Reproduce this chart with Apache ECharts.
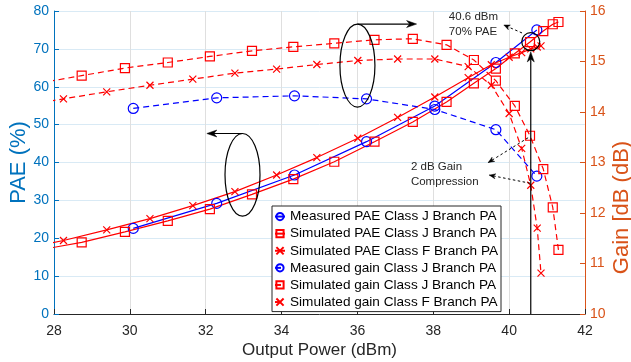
<!DOCTYPE html>
<html><head><meta charset="utf-8">
<script src="https://cdn.jsdelivr.net/npm/echarts@6/dist/echarts.min.js"></script>
<style>html,body{margin:0;padding:0;background:#fff}#c{width:631px;height:362px}</style>
</head><body><div id="c"></div>
<script>
// ---- data ----
const measX = [30.09, 32.29, 34.34, 36.24, 38.04, 39.65, 40.73];
const measPAE = [22.6, 29.2, 36.7, 45.5, 54.9, 66.4, 75.0];
const measGain = [14.07, 14.28, 14.32, 14.26, 14.05, 13.65, 12.73];

const simJX = [27.6, 28.73, 29.87, 31.0, 32.11, 33.22, 34.31, 35.39, 36.45, 37.46, 38.35, 39.07, 39.65, 40.15, 40.55, 40.9, 41.15, 41.3];
const simJPAE = [16.9, 18.9, 21.7, 24.6, 27.7, 31.6, 35.6, 40.2, 45.5, 50.7, 56.0, 60.9, 64.8, 68.8, 71.8, 74.7, 76.5, 77.1];
const simJGain = [14.57, 14.72, 14.87, 14.98, 15.10, 15.21, 15.29, 15.36, 15.43, 15.45, 15.33, 15.03, 14.62, 14.12, 13.53, 12.87, 12.11, 11.27];

const simFX = [27.1, 28.25, 29.39, 30.53, 31.66, 32.77, 33.87, 34.93, 36.01, 37.06, 38.04, 38.92, 39.53, 40.0, 40.33, 40.57, 40.74, 40.84];
const simFPAE = [17.1, 19.4, 22.2, 25.2, 28.6, 32.3, 36.7, 41.3, 46.4, 51.9, 57.3, 62.4, 65.8, 67.8, 69.0, 70.0, 70.5, 70.8];
const simFGain = [14.12, 14.26, 14.40, 14.53, 14.65, 14.77, 14.85, 14.94, 15.02, 15.05, 15.05, 14.90, 14.53, 13.97, 13.28, 12.55, 11.70, 10.81];

const xTicks = [28, 30, 32, 34, 36, 38, 40, 42];
const names = ['Measured PAE Class J Branch PA', 'Simulated PAE Class J Branch PA', 'Simulated PAE Class F Branch PA',
  'Measured gain Class J Branch PA', 'Simulated gain Class J Branch PA', 'Simulated gain Class F Branch PA'];

const FONT = "'Liberation Sans', Arial, Helvetica, sans-serif";
const BLUE = '#0000FF', RED = '#FF0000';
const CROSS = 'path://M0,0L10,10M10,0L0,10';

function zip(xs, ys) { return xs.map((x, i) => [x, ys[i]]); }
function ser(name, xs, ys, color, symbol, size, dashed, yIdx) {
  return {
    name, type: 'line', yAxisIndex: yIdx, data: zip(xs, ys),
    symbol, symbolSize: size, showSymbol: true, clip: true,
    lineStyle: { color, width: 1.2, type: dashed ? [6, 4] : 'solid' },
    itemStyle: { color: 'rgba(0,0,0,0)', borderColor: color, borderWidth: 1.2 },
    emphasis: { disabled: true }, silent: true, z: 3
  };
}

const chart = echarts.init(document.getElementById('c'), null, { renderer: 'canvas' });
const option = {
  animation: false,
  textStyle: { fontFamily: FONT },
  grid: { left: 54, right: 46, top: 11, bottom: 48, containLabel: false, outerBoundsMode: 'none' },
  xAxis: {
    type: 'value', min: 28, max: 42, interval: 2,
    name: 'Output Power (dBm)', nameLocation: 'middle', nameGap: 28, nameMoveOverlap: false,
    nameTextStyle: { color: '#262626', fontSize: 17, fontFamily: FONT },
    axisLine: { onZero: false, lineStyle: { color: '#262626', width: 1 } },
    axisTick: { inside: true, length: 5, lineStyle: { color: '#262626' } },
    axisLabel: { color: '#262626', fontSize: 14, margin: 10, fontFamily: FONT },
    splitLine: { show: true, lineStyle: { color: '#dfdfdf', width: 1 } }
  },
  yAxis: [{
    type: 'value', position: 'left', min: 0, max: 80, interval: 10,
    name: 'PAE (%)', nameLocation: 'middle', nameGap: 24, nameMoveOverlap: false,
    nameTextStyle: { color: '#0072BD', fontSize: 22, fontFamily: FONT },
    axisLine: { show: true, onZero: false, lineStyle: { color: '#0072BD', width: 1 } },
    axisTick: { show: true, inside: true, length: 5, lineStyle: { color: '#0072BD' } },
    axisLabel: { color: '#0072BD', fontSize: 14, margin: 5, fontFamily: FONT },
    splitLine: { show: true, lineStyle: { color: '#d9eaf5', width: 1 } }
  }, {
    type: 'value', position: 'right', min: 10, max: 16, interval: 1,
    name: 'Gain [dB (dB)', nameLocation: 'middle', nameGap: 26, nameMoveOverlap: false,
    nameTextStyle: { color: '#D95319', fontSize: 22, fontFamily: FONT, padding: [0, 90, 0, 0] },
    axisLine: { show: true, onZero: false, lineStyle: { color: '#D95319', width: 1 } },
    axisTick: { show: true, inside: true, length: 5, lineStyle: { color: '#D95319' } },
    axisLabel: { color: '#D95319', fontSize: 14, margin: 5, fontFamily: FONT },
    splitLine: { show: false }
  }],
  legend: {
    data: names, orient: 'vertical', left: 272, top: 206,
    backgroundColor: '#fff', borderColor: '#262626', borderWidth: 1,
    padding: [2, 3, 1, 2], itemGap: 0, itemWidth: 10, itemHeight: 9,
    itemStyle: { color: 'rgba(0,0,0,0)' },
    textStyle: { color: '#000', fontSize: 13.6, lineHeight: 17.1, fontFamily: FONT },
    selectedMode: false
  },
  series: [
    ser(names[0], measX, measPAE, BLUE, 'circle', 10, false, 0),
    ser(names[1], simJX, simJPAE, RED, 'rect', 9, false, 0),
    ser(names[2], simFX, simFPAE, RED, CROSS, 7, false, 0),
    ser(names[3], measX, measGain, BLUE, 'circle', 10, true, 1),
    ser(names[4], simJX, simJGain, RED, 'rect', 9, true, 1),
    ser(names[5], simFX, simFGain, RED, CROSS, 7, true, 1)
  ]
};
chart.setOption(option);

// ---- annotations (in data coordinates) ----
function P(x, y, ax) { return chart.convertToPixel({ xAxisIndex: 0, yAxisIndex: ax || 0 }, [x, y]); }
const K = '#000';
function head(tip, from, len, half, color, z) {
  const dx = tip[0] - from[0], dy = tip[1] - from[1];
  const d = Math.hypot(dx, dy), ux = dx / d, uy = dy / d, nx = -uy, ny = ux;
  const b = [tip[0] - ux * len, tip[1] - uy * len];
  const n = [tip[0] - ux * len * 0.7, tip[1] - uy * len * 0.7];
  return { type: 'polygon', z: z || 10, silent: true,
    shape: { points: [tip, [b[0] + nx * half, b[1] + ny * half], n, [b[0] - nx * half, b[1] - ny * half]] },
    style: { fill: color || K, stroke: color || K, lineWidth: 0.5 } };
}
function line(a, b, dotted, z) {
  return { type: 'line', z: z || 10, silent: true, shape: { x1: a[0], y1: a[1], x2: b[0], y2: b[1] },
    style: { stroke: K, lineWidth: dotted ? 1 : 1.2, lineDash: dotted ? [2.5, 2.5] : null } };
}
function ell(c, rx, ry) {
  return { type: 'ellipse', z: 10, silent: true, shape: { cx: c[0], cy: c[1], rx, ry }, style: { fill: 'none', stroke: K, lineWidth: 1.2 } };
}
function txt(p, s) {
  return { type: 'text', z: 10, silent: true, x: p[0], y: p[1],
    style: { text: s, fill: '#262626', font: '11.5px ' + FONT, textAlign: 'left', textVerticalAlign: 'middle' } };
}
const g = [];
// ellipse 1 with arrow to the right (gain curves)
const e1 = P(36.0, 65.6); g.push(ell(e1, 17.5, 41.5));
const e1t = [e1[0], e1[1] - 41.5], a1 = [P(37.56, 0)[0], e1t[1]];
g.push(line(e1t, [a1[0] - 4, a1[1]])); g.push(head(a1, e1t, 10, 3.5));
// ellipse 2 with arrow to the left (PAE curves)
const e2 = P(32.97, 36.75); g.push(ell(e2, 17.5, 41.3));
const e2t = [e2[0], e2[1] - 41.3], a2 = [P(32.03, 0)[0], e2t[1]];
g.push(line(e2t, [a2[0] + 4, a2[1]])); g.push(head(a2, e2t, 10, 3.5));
// 40.6 dBm marker
const c0 = P(40.57, 71.9);
g.push({ type: 'circle', z: 10, silent: true, shape: { cx: c0[0], cy: c0[1], r: 9 }, style: { fill: 'none', stroke: K, lineWidth: 1.2 } });
const vb = P(40.57, 0), vt = P(40.57, 69.2);
g.push(line(vb, [vt[0], vt[1] + 4])); g.push(head(vt, vb, 10, 3.5));
const d1 = P(40.34, 74.2), d2 = P(39.86, 76.3);
g.push(line(d1, d2, true)); g.push(head(d2, d1, 6, 2.5));
g.push(txt(P(38.41, 78.4), '40.6 dBm'));
g.push(txt(P(38.41, 74.5), '70% PAE'));
// gain compression arrows
const q1 = P(40.5, 13.49, 1), q2 = P(39.45, 13.0, 1);
g.push(line(q1, q2, true)); g.push(head(q2, q1, 6, 2.5));
const r1 = P(40.55, 12.59, 1), r2 = P(39.48, 12.75, 1);
g.push(line(r1, r2, true)); g.push(head(r2, r1, 6, 2.5));
g.push(txt(P(37.41, 38.9), '2 dB Gain'));
g.push(txt(P(37.41, 35.0), 'Compression'));
chart.setOption({ graphic: g });
</script></body></html>
